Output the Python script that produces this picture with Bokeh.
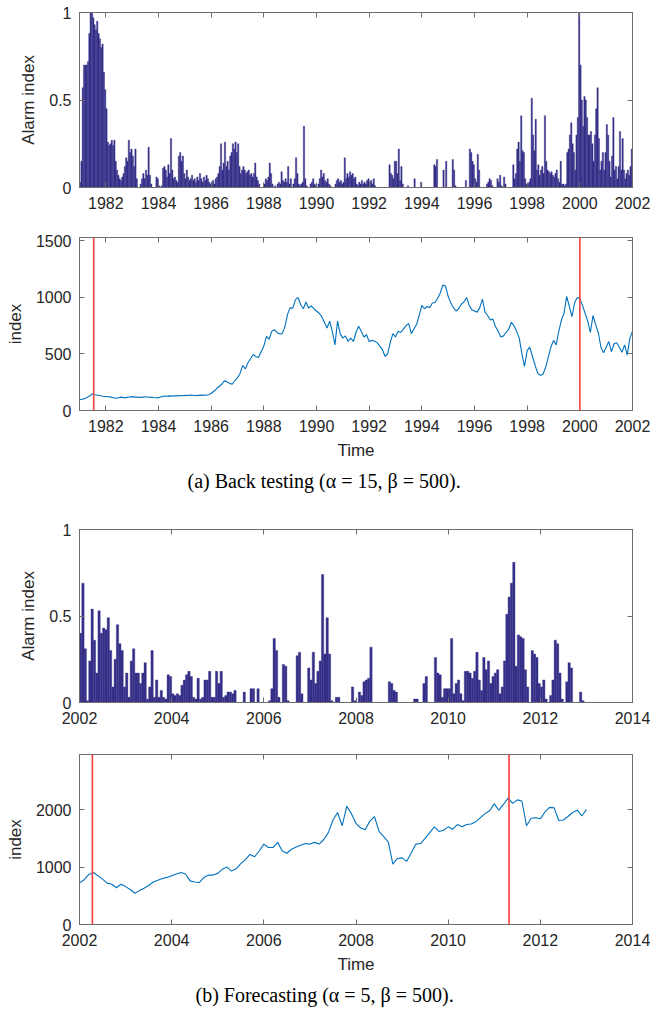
import numpy as np
from bokeh.plotting import figure
from bokeh.models import Range1d, LinearAxis, FixedTicker, Title, Span, ColumnDataSource
from bokeh.layouts import column
from bokeh.embed import file_html
from bokeh.resources import INLINE

# ---------------- data ----------------
# (a) back testing: alarm index, one value per 0.05 year from 1981.0
alarm_a_start = 1981.0
alarm_a = [
    0.03, 0.15, 0.57, 0.70, 0.70, 0.70, 0.72, 0.88, 1.00, 1.00, 0.97, 0.93, 0.90, 0.95, 0.88, 0.85, 0.80, 0.82, 0.66, 0.56,
    0.45, 0.26, 0.24, 0.25, 0.27, 0.24, 0.27, 0.15, 0.10, 0.07, 0.05, 0.04, 0.06, 0.08, 0.12, 0.17, 0.15, 0.27, 0.20, 0.22,
    0.18, 0.12, 0.22, 0.05, 0.00, 0.00, 0.02, 0.05, 0.08, 0.05, 0.10, 0.07, 0.23, 0.07, 0.02, 0.00, 0.00, 0.00, 0.06, 0.05,
    0.01, 0.00, 0.01, 0.11, 0.12, 0.10, 0.06, 0.13, 0.08, 0.28, 0.10, 0.05, 0.06, 0.04, 0.03, 0.18, 0.20, 0.15, 0.18, 0.08,
    0.05, 0.10, 0.06, 0.04, 0.05, 0.07, 0.04, 0.05, 0.03, 0.06, 0.04, 0.08, 0.05, 0.03, 0.06, 0.04, 0.07, 0.05, 0.03, 0.02,
    0.03, 0.04, 0.02, 0.05, 0.06, 0.08, 0.12, 0.25, 0.10, 0.14, 0.26, 0.12, 0.15, 0.10, 0.18, 0.20, 0.25, 0.22, 0.26, 0.20,
    0.25, 0.12, 0.08, 0.10, 0.12, 0.10, 0.08, 0.09, 0.10, 0.07, 0.08, 0.06, 0.08, 0.14, 0.06, 0.04, 0.02, 0.00, 0.00, 0.00,
    0.02, 0.05, 0.04, 0.06, 0.14, 0.08, 0.02, 0.00, 0.01, 0.00, 0.02, 0.03, 0.02, 0.09, 0.04, 0.03, 0.05, 0.03, 0.12, 0.02,
    0.05, 0.00, 0.02, 0.05, 0.17, 0.08, 0.02, 0.01, 0.02, 0.03, 0.35, 0.05, 0.01, 0.00, 0.00, 0.02, 0.03, 0.05, 0.02, 0.01,
    0.00, 0.02, 0.05, 0.10, 0.06, 0.08, 0.04, 0.03, 0.05, 0.02, 0.01, 0.00, 0.00, 0.00, 0.02, 0.04, 0.05, 0.03, 0.04, 0.02,
    0.03, 0.17, 0.05, 0.08, 0.06, 0.09, 0.07, 0.08, 0.05, 0.06, 0.02, 0.01, 0.03, 0.02, 0.04, 0.02, 0.03, 0.02, 0.04, 0.05,
    0.03, 0.04, 0.02, 0.05, 0.01, 0.00, 0.00, 0.00, 0.00, 0.00, 0.00, 0.00, 0.00, 0.00, 0.00, 0.13, 0.08, 0.07, 0.05, 0.15,
    0.15, 0.08, 0.22, 0.04, 0.12, 0.02, 0.00, 0.00, 0.00, 0.01, 0.00, 0.00, 0.00, 0.00, 0.05, 0.00, 0.00, 0.00, 0.00, 0.03,
    0.00, 0.00, 0.00, 0.00, 0.00, 0.00, 0.00, 0.00, 0.00, 0.13, 0.12, 0.16, 0.00, 0.00, 0.00, 0.00, 0.10, 0.00, 0.15, 0.00,
    0.00, 0.00, 0.00, 0.16, 0.10, 0.01, 0.00, 0.00, 0.00, 0.00, 0.00, 0.00, 0.00, 0.04, 0.00, 0.00, 0.22, 0.20, 0.15, 0.13,
    0.05, 0.03, 0.19, 0.10, 0.00, 0.00, 0.00, 0.00, 0.00, 0.02, 0.03, 0.05, 0.04, 0.01, 0.00, 0.00, 0.00, 0.05, 0.03, 0.07,
    0.01, 0.00, 0.06, 0.02, 0.00, 0.00, 0.00, 0.00, 0.00, 0.13, 0.05, 0.08, 0.22, 0.26, 0.15, 0.41, 0.21, 0.20, 0.05, 0.02,
    0.02, 0.03, 0.05, 0.51, 0.30, 0.21, 0.39, 0.10, 0.13, 0.07, 0.10, 0.12, 0.08, 0.41, 0.15, 0.10, 0.09, 0.08, 0.09, 0.07,
    0.06, 0.08, 0.10, 0.05, 0.03, 0.15, 0.02, 0.02, 0.01, 0.02, 0.20, 0.22, 0.30, 0.37, 0.25, 0.20, 0.10, 0.30, 0.40, 1.00,
    0.70, 0.50, 0.35, 0.52, 0.50, 0.40, 0.30, 0.30, 0.32, 0.25, 0.15, 0.30, 0.45, 0.57, 0.28, 0.10, 0.15, 0.20, 0.10, 0.20,
    0.36, 0.30, 0.15, 0.06, 0.18, 0.40, 0.10, 0.12, 0.05, 0.12, 0.32, 0.10, 0.28, 0.10, 0.05, 0.08, 0.10, 0.07, 0.12, 0.22,
]
# (a) index level, one value per 0.1 year from 1981.0
index_a_start = 1981.0
index_a = [
    95, 100, 105, 118, 130, 148, 140, 135, 130, 126,
    124, 122, 118, 112, 108, 115, 118, 112, 116, 120,
    123, 118, 120, 116, 118, 121, 117, 118, 115, 113,
    112, 122, 128, 126, 129, 127, 131, 129, 133, 131,
    134, 133, 136, 135, 133, 135, 134, 136, 135, 140,
    150, 170, 192, 212, 232, 262, 255, 240, 232, 265,
    290, 330, 398, 368, 425, 460, 495, 476, 470, 520,
    570, 655, 630, 700, 715, 690, 676, 680, 740, 850,
    910, 905, 980, 1000, 935, 900, 960, 905, 926, 900,
    880, 860, 830, 780, 730, 790, 700, 580, 790, 680,
    640, 660, 610, 640, 610, 690, 745, 700, 650, 670,
    610, 620, 615, 600, 570, 540, 480, 500, 600, 680,
    650, 700, 690, 720, 750, 770, 680, 720, 760, 840,
    930, 900, 920, 910, 950, 955, 990, 1040, 1110, 1100,
    1010, 950, 910, 880, 900, 940, 960, 1000, 930, 890,
    880, 870, 910, 985, 870, 840, 800, 808, 740, 700,
    650, 660, 690, 720, 780, 750, 700, 640, 500, 390,
    530, 560, 480, 400, 330, 310, 320, 380, 470, 560,
    620, 580, 700, 800, 860, 1010, 920, 830, 950, 1000,
    990, 930, 860, 790, 690, 840, 760, 690, 560, 510,
    560, 610, 520, 590, 600, 560, 515, 580, 490, 640,
    700,
]
crash_a = [1981.54, 2000.0]

# (b) forecasting: alarm index, one value per 0.05 year from 2002.0
alarm_b_start = 2002.0
alarm_b = [
    0.40, 0.69, 0.31, 0.01, 0.24, 0.54, 0.36, 0.17, 0.53, 0.40, 0.43, 0.42, 0.49, 0.30, 0.09, 0.25, 0.45, 0.34, 0.30, 0.09,
    0.17, 0.03, 0.24, 0.31, 0.17, 0.17, 0.11, 0.17, 0.23, 0.02, 0.09, 0.30, 0.03, 0.13, 0.03, 0.07, 0.03, 0.02, 0.16, 0.15,
    0.05, 0.04, 0.05, 0.04, 0.10, 0.13, 0.16, 0.18, 0.15, 0.03, 0.02, 0.14, 0.02, 0.03, 0.13, 0.13, 0.18, 0.03, 0.03, 0.18,
    0.11, 0.18, 0.03, 0.04, 0.06, 0.06, 0.05, 0.07, 0.00, 0.00, 0.00, 0.06, 0.00, 0.00, 0.08, 0.08, 0.00, 0.08, 0.00, 0.00,
    0.00, 0.00, 0.01, 0.08, 0.37, 0.30, 0.03, 0.00, 0.22, 0.21, 0.01, 0.00, 0.00, 0.00, 0.27, 0.29, 0.05, 0.00, 0.00, 0.20,
    0.13, 0.29, 0.11, 0.18, 0.24, 0.74, 0.28, 0.49, 0.28, 0.01, 0.00, 0.03, 0.03, 0.00, 0.00, 0.00, 0.00, 0.00, 0.09, 0.01,
    0.00, 0.06, 0.04, 0.12, 0.13, 0.14, 0.32, 0.00, 0.00, 0.00, 0.00, 0.00, 0.00, 0.00, 0.12, 0.11, 0.07, 0.06, 0.00, 0.00,
    0.00, 0.00, 0.00, 0.00, 0.00, 0.02, 0.02, 0.00, 0.00, 0.11, 0.15, 0.00, 0.00, 0.00, 0.26, 0.17, 0.16, 0.03, 0.08, 0.08,
    0.08, 0.37, 0.05, 0.11, 0.13, 0.05, 0.01, 0.18, 0.18, 0.17, 0.14, 0.18, 0.29, 0.13, 0.07, 0.26, 0.19, 0.24, 0.11, 0.15,
    0.17, 0.19, 0.05, 0.09, 0.24, 0.51, 0.61, 0.69, 0.81, 0.21, 0.39, 0.38, 0.37, 0.19, 0.09, 0.00, 0.30, 0.28, 0.26, 0.11,
    0.09, 0.13, 0.02, 0.00, 0.04, 0.13, 0.36, 0.34, 0.17, 0.02, 0.00, 0.12, 0.23, 0.20, 0.00, 0.00, 0.00, 0.06, 0.01, 0.00,
]
# (b) index level, one value per 0.1 year from 2002.0
index_b_start = 2002.0
index_b = [
    720, 780, 870, 905, 850, 790, 720, 700, 640, 700,
    660, 610, 545, 590, 630, 680, 740, 770, 800, 820,
    850, 880, 905, 880, 760, 740, 730, 820, 860, 860,
    890, 960, 1000, 930, 970, 1060, 1130, 1220, 1180, 1280,
    1400, 1340, 1340, 1430, 1280, 1240, 1310, 1350, 1380, 1410,
    1400, 1430, 1400, 1480, 1600, 1820, 1950, 1720, 2060, 1930,
    1760, 1680, 1650, 1800, 1880, 1620, 1530, 1440, 1050, 1150,
    1160, 1100, 1250, 1400, 1410, 1500, 1600, 1700, 1620, 1640,
    1700, 1660, 1740, 1700, 1740, 1750, 1790, 1860, 1930, 1980,
    2100, 1990, 2090, 2200, 2110, 2170, 2150, 1720, 1850, 1860,
    1840, 1960, 2040, 2030, 1810, 1820, 1880, 1950, 1990, 1890,
    2000,
]
crash_b = [2002.28, 2011.32]

xticks_a = [1982, 1984, 1986, 1988, 1990, 1992, 1994, 1996, 1998, 2000, 2002]
xticks_b = [2002, 2004, 2006, 2008, 2010, 2012, 2014]
alarm_yticks = [0, 0.5, 1]
index_a_yticks = [0, 500, 1000, 1500]
index_b_yticks = [0, 1000, 2000]
caption_a = "(a) Back testing (\u03b1 = 15, \u03b2 = 500)."
caption_b = "(b) Forecasting (\u03b1 = 5, \u03b2 = 500)."

# ---------------- styling ----------------
FRAME = "#6e6e6e"
TEXT = "#262626"
BAR = "#352f88"
LINE = "#0072bd"
RED = "#ff3b3b"
SANS = "Liberation Sans"
SERIF = "Liberation Serif"


def make_fig(height, xr, yr, top, bottom):
    p = figure(width=650, height=height, x_range=Range1d(*xr), y_range=Range1d(*yr),
               output_backend="svg", toolbar_location=None,
               min_border_left=79, min_border_right=18,
               min_border_top=top, min_border_bottom=bottom)
    p.xgrid.visible = False
    p.ygrid.visible = False
    p.outline_line_color = FRAME
    p.outline_line_width = 1
    p.background_fill_color = "white"
    p.border_fill_color = "white"
    return p


def mirror_axis(ticks):
    return LinearAxis(ticker=FixedTicker(ticks=ticks), major_label_text_font_size="1px",
                      major_label_text_color=None, major_label_standoff=0,
                      major_tick_in=5, major_tick_out=0,
                      minor_tick_line_color=None, axis_line_color=FRAME,
                      major_tick_line_color=FRAME)


def style_axes(p, xticks, yticks, ylabel, xlabel=None):
    for ax in (p.xaxis[0], p.yaxis[0]):
        ax.axis_line_color = FRAME
        ax.major_tick_line_color = FRAME
        ax.major_tick_in = 5
        ax.major_tick_out = 0
        ax.minor_tick_line_color = None
        ax.major_label_text_font = SANS
        ax.major_label_text_font_size = "16px"
        ax.major_label_text_color = TEXT
        ax.axis_label_text_font = SANS
        ax.axis_label_text_font_size = "17px"
        ax.axis_label_text_font_style = "normal"
        ax.axis_label_text_color = TEXT
    p.xaxis[0].ticker = FixedTicker(ticks=xticks)
    p.yaxis[0].ticker = FixedTicker(ticks=yticks)
    p.xaxis[0].major_label_standoff = 9
    p.yaxis[0].major_label_standoff = 8
    p.yaxis[0].axis_label = ylabel
    p.yaxis[0].axis_label_standoff = 8
    if xlabel:
        p.xaxis[0].axis_label = xlabel
        p.xaxis[0].axis_label_standoff = 6
    p.add_layout(mirror_axis(xticks), "above")
    p.add_layout(mirror_axis(yticks), "right")


def add_bars(p, start, vals):
    x = start + 0.05 * np.arange(len(vals)) + 0.025
    src = ColumnDataSource(dict(x=x, top=vals))
    p.vbar(x="x", top="top", width=0.05, bottom=0, source=src,
           fill_color=BAR, line_color=BAR, line_width=0.4)


def add_line(p, start, vals, crashes):
    x = start + 0.1 * np.arange(len(vals))
    p.line(x, vals, line_color=LINE, line_width=1.1)
    for c in crashes:
        p.add_layout(Span(location=c, dimension="height", line_color=RED, line_width=1.6))


def add_caption(p, text, offset):
    p.add_layout(Title(text=text, align="left", offset=offset, text_font=SERIF,
                       text_font_size="20px", text_font_style="normal",
                       text_color="black", standoff=10), "below")


# panel 1
p1 = make_fig(217, (1981, 2002), (0, 1), 12, 30)
add_bars(p1, alarm_a_start, alarm_a)
style_axes(p1, xticks_a, alarm_yticks, "Alarm index")

# panel 2
p2 = make_fig(288, (1981, 2002), (0, 1530), 20, 95)
add_line(p2, index_a_start, index_a, crash_a)
style_axes(p2, xticks_a, index_a_yticks, "index", "Time")
add_caption(p2, caption_a, 108)

# panel 3
p3 = make_fig(227, (2002, 2014), (0, 1), 24, 30)
add_bars(p3, alarm_b_start, alarm_b)
style_axes(p3, xticks_b, alarm_yticks, "Alarm index")

# panel 4
p4 = make_fig(278, (2002, 2014), (0, 2960), 22, 83)
add_line(p4, index_b_start, index_b, crash_b)
style_axes(p4, xticks_b, index_b_yticks, "index", "Time")
add_caption(p4, caption_b, 116)

layout = column(p1, p2, p3, p4, spacing=0)
open("out.html", "w").write(file_html(layout, INLINE))
